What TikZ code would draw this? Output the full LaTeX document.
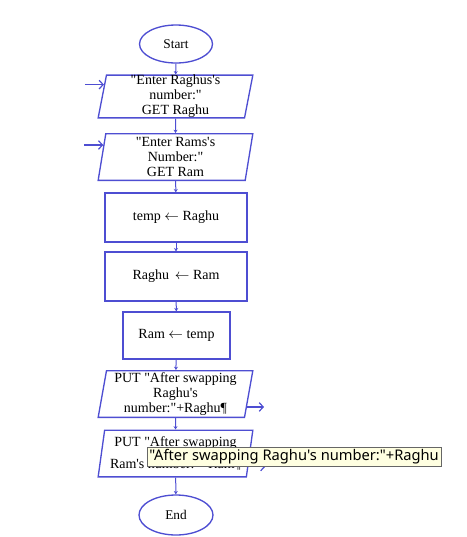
\documentclass[tikz,border=0pt]{standalone}
\usepackage{fontspec}
\setmainfont{Liberation Serif}[Ligatures=TeXOff]
\newfontfamily\tipfont{Noto Sans}
\usetikzlibrary{arrows.meta, calc, positioning, shapes.geometric}
\definecolor{flowblue}{RGB}{78,78,210}
\definecolor{tipyellow}{RGB}{255,255,225}

\begin{document}
\begin{tikzpicture}[
    x=0.75pt, y=-0.75pt,         % Pixel-Raster wie im Bild
    terminal/.style={draw=flowblue, line width=1pt, ellipse, fill=white, minimum width=54.75pt, minimum height=28.5pt, inner sep=1pt, font=\fontsize{10}{11}\selectfont},
    io/.style={draw=flowblue, line width=1pt, trapezium, trapezium left angle=79, trapezium right angle=101, trapezium stretches body, minimum width=116pt, minimum height=35pt, inner xsep=0pt, inner ysep=0pt, align=center, font=\fontsize{10.5}{11.25}\selectfont},
    process/.style={draw=flowblue, line width=1pt, rectangle, minimum width=106.5pt, minimum height=36.75pt, font=\fontsize{10.5}{11.25}\selectfont},
    arrow/.style={-{Stealth[length=2.5pt,width=3pt]}, flowblue, line width=0.75pt},
    ioarrow/.style={-{Straight Barb[length=3pt,width=6.5pt]}, flowblue, line width=0.9pt},
    tooltip/.style={draw=black!60, fill=tipyellow, inner sep=1.5pt, minimum height=14.25pt, font=\tipfont\fontsize{11}{12}\selectfont}
  ]
  \useasboundingbox (0,0) rectangle (467,537);

  % Ablauf von oben nach unten
  \node[terminal] (start) at (176,44)    {Start};
  \node[io, minimum height=32pt] (par1) at (175.5,96.5) {"Enter Raghus's\\number:"\\GET Raghu};
  \node[io]       (par2) at (175.5,157)  {"Enter Rams's\\Number:"\\GET Ram};
  \node[process]  (box1) at (176,217.5)  {temp $\leftarrow$ Raghu};
  \node[process]  (box2) at (176,276.5)  {Raghu \,$\leftarrow$ Ram};
  \node[process, minimum width=80.25pt, minimum height=35.25pt] (box3) at (176.5,335.5) {Ram $\leftarrow$ temp};
  \node[io]       (par3) at (175.5,394)  {PUT "After swapping\\Raghu's\\number:"+Raghu¶};
  \node[io]       (par4) at (175.5,453.5) {PUT "After swapping\\[5pt]Ram's number:"+Ram¶};
  \node[terminal, minimum width=55.5pt, minimum height=30pt] (end) at (176,515) {End};

  \draw[arrow] (start) -- (par1);
  \draw[arrow] (par1) -- (par2);
  \draw[arrow] (par2) -- (box1);
  \draw[arrow] (box1) -- (box2);
  \draw[arrow] (box2) -- (box3);
  \draw[arrow] (box3) -- (par3);
  \draw[arrow] (par3) -- (par4);
  \draw[arrow] (par4) -- (end);

  % Ein- und Ausgabepfeile
  \coordinate (in1)  at ($(par1.top left corner)!0.23!(par1.bottom left corner)$);
  \coordinate (in2)  at ($(par2.top left corner)!0.25!(par2.bottom left corner)$);
  \coordinate (out3) at ($(par3.top right corner)!0.77!(par3.bottom right corner)$);
  \coordinate (out4) at ($(par4.top right corner)!0.77!(par4.bottom right corner)$);
  \draw[ioarrow] ($(in1)+(-19,0)$) -- (in1);
  \draw[ioarrow] ($(in2)+(-19,0)$) -- (in2);
  \draw[ioarrow] (out3) -- ++(17,0);
  \draw[ioarrow] (out4) -- ++(17,0);

  % Tooltip ueber der letzten Ausgabe
  \node[tooltip, anchor=west] (tip) at (147,456.5) {"After swapping Raghu's number:"+Raghu};

\end{tikzpicture}
\end{document}
